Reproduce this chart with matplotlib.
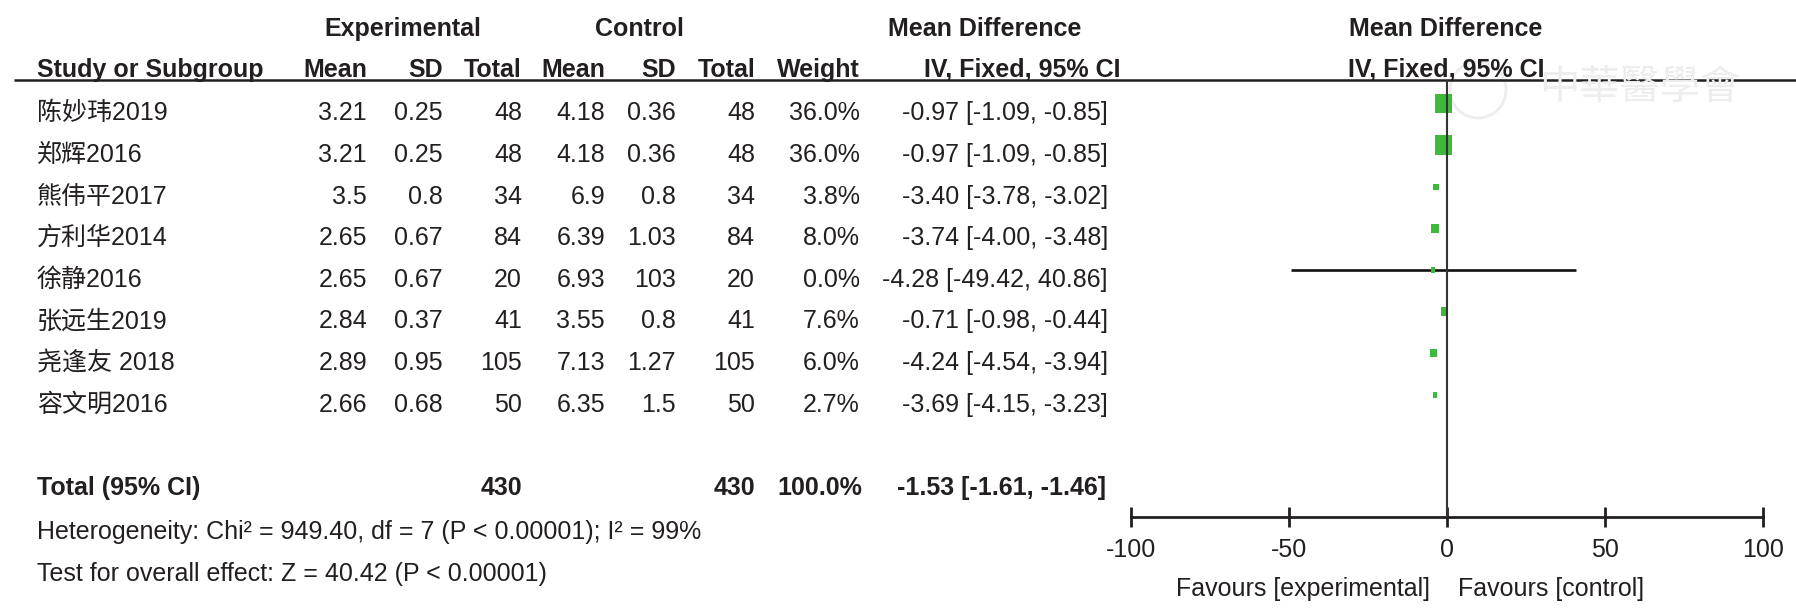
import numpy as np
import matplotlib
matplotlib.use('Agg')
import matplotlib.pyplot as plt
from matplotlib.patches import Rectangle, Circle

plt.rcParams['font.family'] = ['Liberation Sans', 'Noto Sans CJK SC', 'DejaVu Sans']

# 数据
studies = ['陈妙玮2019', '郑辉2016', '熊伟平2017', '方利华2014', '徐静2016',
           '张远生2019', '尧逢友 2018', '容文明2016']
exp_mean = [3.21, 3.21, 3.5, 2.65, 2.65, 2.84, 2.89, 2.66]
exp_sd = [0.25, 0.25, 0.8, 0.67, 0.67, 0.37, 0.95, 0.68]
exp_n = [48, 48, 34, 84, 20, 41, 105, 50]
ctl_mean = [4.18, 4.18, 6.9, 6.39, 6.93, 3.55, 7.13, 6.35]
ctl_sd = [0.36, 0.36, 0.8, 1.03, 103, 0.8, 1.27, 1.5]
ctl_n = [48, 48, 34, 84, 20, 41, 105, 50]
weight = [36.0, 36.0, 3.8, 8.0, 0.0, 7.6, 6.0, 2.7]
md = [-0.97, -0.97, -3.40, -3.74, -4.28, -0.71, -4.24, -3.69]
ci_lo = [-1.09, -1.09, -3.78, -4.00, -49.42, -0.98, -4.54, -4.15]
ci_hi = [-0.85, -0.85, -3.02, -3.48, 40.86, -0.44, -3.94, -3.23]

total_exp, total_ctl = 430, 430
total_md, total_lo, total_hi = -1.53, -1.61, -1.46
het_text = 'Heterogeneity: Chi² = 949.40, df = 7 (P < 0.00001); I² = 99%'
test_text = 'Test for overall effect: Z = 40.42 (P < 0.00001)'
xticks = [-100, -50, 0, 50, 100]

W, H = 1796, 616
TXT = '#231f20'
GREEN = '#3dba3a'
FS = 18

fig = plt.figure(figsize=(W / 100, H / 100), dpi=100)
ax0 = fig.add_axes([0, 0, 1, 1])
ax0.set_xlim(0, W)
ax0.set_ylim(H, 0)
ax0.axis('off')


def base(r):
    # 行的基线位置(像素)
    return 111.7 + 41.6 * r + 8.7


def put(x, y, s, ha='right', bold=False):
    ax0.text(x, y, s, ha=ha, va='baseline', fontsize=FS, color=TXT,
             fontweight='bold' if bold else 'normal')


# 表头
put(403, 35.7, 'Experimental', ha='center', bold=True)
put(639, 35.7, 'Control', ha='center', bold=True)
put(985, 35.7, 'Mean Difference', ha='center', bold=True)
put(1446, 35.7, 'Mean Difference', ha='center', bold=True)
put(37, 76.7, 'Study or Subgroup', ha='left', bold=True)
cols = [367, 443, 522, 605, 676, 755]
for x, s in zip(cols, ['Mean', 'SD', 'Total', 'Mean', 'SD', 'Total']):
    put(x, 76.7, s, bold=True)
put(860, 76.7, 'Weight', bold=True)
put(1120, 76.7, 'IV, Fixed, 95% CI', bold=True)
put(1446, 76.7, 'IV, Fixed, 95% CI', ha='center', bold=True)
ax0.plot([14, W], [79.5, 79.5], color=TXT, lw=1.8, solid_capstyle='butt')

# 水印
ax0.add_patch(Circle((1478, 90), 28, fill=False, ec='#ededed', lw=2))
ax0.text(1640, 88, '中華醫學會', ha='center', va='center', fontsize=29,
         color='#ededed', family=['Noto Sans CJK TC'])

# 各研究行
for i in range(len(studies)):
    y = base(i)
    put(37, y, studies[i], ha='left')
    vals = [exp_mean[i], exp_sd[i], exp_n[i], ctl_mean[i], ctl_sd[i], ctl_n[i]]
    for x, v in zip(cols, vals):
        put(x, y, f'{v:g}')
    put(860, y, f'{weight[i]:.1f}%')
    put(1108, y, f'{md[i]:.2f} [{ci_lo[i]:.2f}, {ci_hi[i]:.2f}]')

# 合计
y = base(9)
put(37, y, 'Total (95% CI)', ha='left', bold=True)
put(522, y, str(total_exp), bold=True)
put(755, y, str(total_ctl), bold=True)
put(862, y, '100.0%', bold=True)
put(1106, y, f'{total_md:.2f} [{total_lo:.2f}, {total_hi:.2f}]', bold=True)
put(37, base(10.07), het_text, ha='left')
put(37, base(11.07), test_text, ha='left')

# 森林图
x0, x1 = 1130.7, 1762.7
y_top, y_bot = 80, 517
ax = fig.add_axes([x0 / W, 1 - y_bot / H, (x1 - x0) / W, (y_bot - y_top) / H])
ax.patch.set_alpha(0)
ax.set_xlim(-100, 100)
ax.set_ylim((y_bot - 103.5) / 41.6, (y_top - 103.5) / 41.6)
for sp in ['top', 'left', 'right']:
    ax.spines[sp].set_visible(False)
ax.spines['bottom'].set_linewidth(2)
ax.spines['bottom'].set_color(TXT)
ax.set_yticks([])
ax.set_xticks(xticks)
ax.set_xticklabels([str(t) for t in xticks])
ax.tick_params(axis='x', direction='inout', length=14.4, width=2, pad=8,
               labelsize=FS, colors=TXT)
ax.axvline(0, color='#333333', lw=1.5, zorder=4)

px_x = (x1 - x0) / 200.0
px_y = 41.6
for i in range(len(studies)):
    ax.plot([ci_lo[i], ci_hi[i]], [i, i], color='#111111', lw=1.9, zorder=2,
            solid_capstyle='butt')
    w = max(17 * np.sqrt(weight[i] / 36.0), 3.5)
    h = max(1.15 * w, 6)
    wu, hu = w / px_x, h / px_y
    ax.add_patch(Rectangle((md[i] - wu / 2, i - hu / 2), wu, hu, fc=GREEN,
                           lw=0, zorder=3))

put(1430, 595.7, 'Favours [experimental]')
put(1458, 595.7, 'Favours [control]', ha='left')

fig.savefig('out.png', dpi=100, facecolor='white')
